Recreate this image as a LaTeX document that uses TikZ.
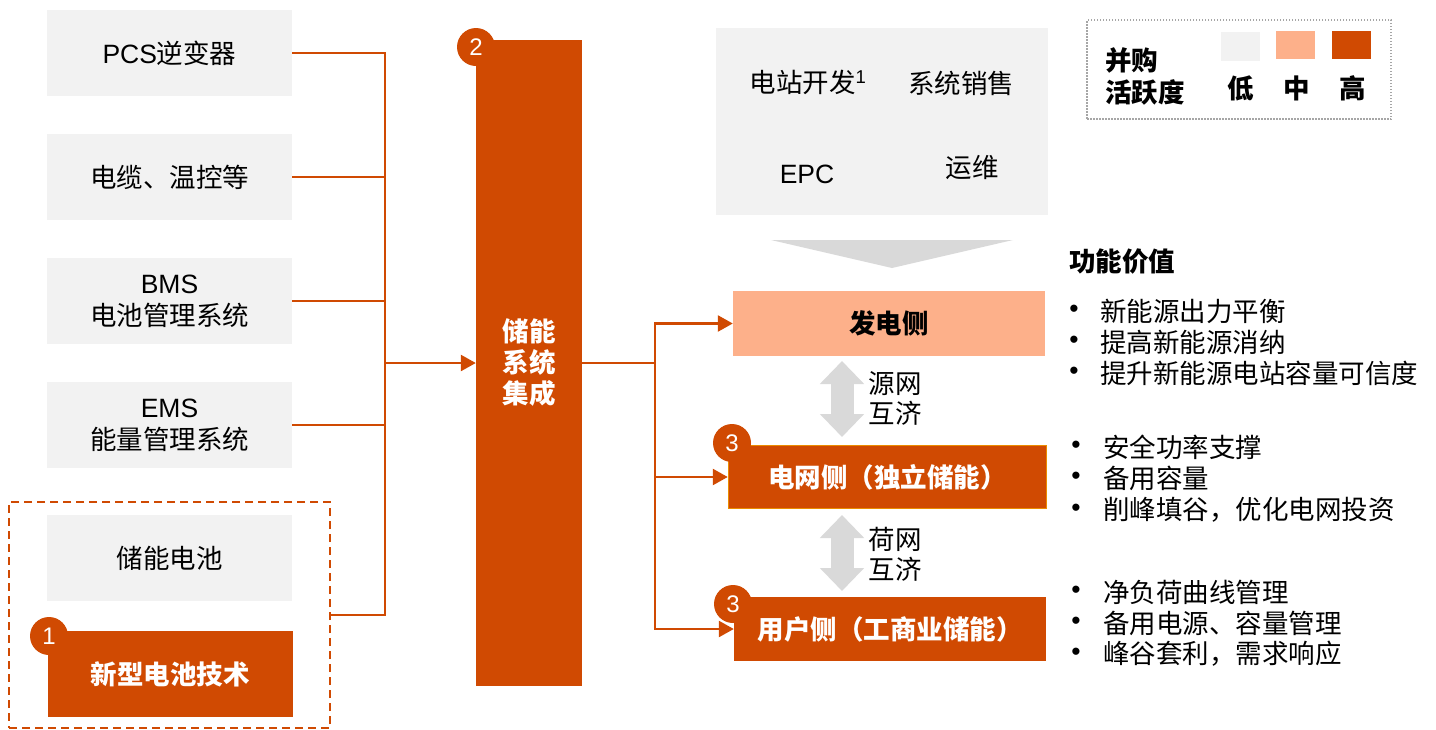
\documentclass[tikz,border=0pt]{standalone}
\usepackage{fontspec}
\setmainfont{Liberation Sans}
\newfontfamily\cjk{Noto Sans CJK SC}
\newfontfamily\lat{Liberation Sans}
\usetikzlibrary{arrows.meta}
\definecolor{pwcorange}{HTML}{D04A02}
\definecolor{pwclight}{HTML}{FDB08A}
\definecolor{boxgray}{HTML}{F2F2F2}
\definecolor{arrgray}{HTML}{D9D9D9}
\definecolor{gridborder}{HTML}{EB8C00}
\definecolor{dotgray}{HTML}{A6A6A6}
\begin{document}
\begin{tikzpicture}[x=1pt,y=-1pt,
  txt/.style={font=\cjk\fontsize{26.5}{32}\selectfont, inner sep=0pt, text=black},
  btxt/.style={font=\cjk\bfseries\fontsize{26.5}{32}\selectfont, inner sep=0pt},
  graybox/.style={txt, fill=boxgray, minimum width=245pt, minimum height=86pt, align=center},
  orangebox/.style={btxt, fill=pwcorange, text=white, align=center},
  numcircle/.style={circle, fill=pwcorange, text=white, minimum size=38pt, inner sep=0pt, font=\lat\fontsize{24}{24}\selectfont},
  conn/.style={draw=pwcorange, line width=2.5pt},
  tip/.style={-{Triangle[length=15pt,width=16pt]}},
  garrow/.style={draw=arrgray, line width=23pt, {Triangle[length=23pt,width=43pt]}-{Triangle[length=23pt,width=43pt]}},
  bul/.style={font=\lat\fontsize{26.5}{32}\selectfont, inner sep=0pt},
  bltxt/.style={txt, anchor=west}
]
\useasboundingbox (0,0) rectangle (1436,729);

% left component boxes
\node[graybox] (b1) at (169.5,53) {{\lat PCS}逆变器};
\node[graybox] (b2) at (169.5,177) {电缆、温控等};
\node[graybox] (b3) at (169.5,301) {{\lat BMS}\\电池管理系统};
\node[graybox] (b4) at (169.5,425) {{\lat EMS}\\能量管理系统};
\node[draw=pwcorange, dashed, dash pattern=on 8pt off 5pt, line width=1.8pt, minimum width=321pt, minimum height=226pt, inner sep=0pt] (grp) at (169.5,615) {};
\node[graybox] (b5) at (169.5,558) {储能电池};
\node[orangebox, minimum width=245pt, minimum height=86pt] (b6) at (170,674) {新型电池技术};

% system integration bar
\node[orangebox, minimum width=106pt, minimum height=646pt, font=\cjk\bfseries\fontsize{26.5}{31}\selectfont] (sys) at (529,363) {储能\\系统\\集成};

% left bus
\coordinate (j) at (385,363);
\draw[conn] (b1.east) -| (j);
\draw[conn] (b2.east) -| (j);
\draw[conn] (b3.east) -| (j);
\draw[conn] (b4.east) -| (j);
\draw[conn] (grp.east) -| (j);
\draw[conn,tip] (j) -- (sys.west);

% top development box
\node[fill=boxgray, minimum width=332pt, minimum height=187pt, inner sep=0pt] (dev) at (882,121.5) {};
\node[txt] (t1) at (808,82) {电站开发{\lat\textsuperscript{1}}};
\node[txt] (t2) at (961,83) {系统销售};
\node[txt] (t3) at (807,174) {{\lat EPC}};
\node[txt] (t4) at (972,168) {运维};
\fill[arrgray] (771,240) -- (1013,240) -- (892,268) -- cycle;

% right application boxes
\node[btxt, fill=pwclight, text=black, minimum width=312pt, minimum height=65pt] (gen) at (889,323.5) {发电侧};
\node[btxt, fill=pwcorange, draw=gridborder, line width=1.5pt, text=white, minimum width=318pt, minimum height=63pt] (grid) at (887.5,477) {电网侧（独立储能）};
\node[btxt, fill=pwcorange, text=white, minimum width=312pt, minimum height=64pt] (user) at (890,629) {用户侧（工商业储能）};

% right bus
\coordinate (k) at (655,363);
\draw[conn] (sys.east |- k) -- (k);
\draw[conn,tip] (k) |- (gen.west);
\draw[conn,tip] (k) |- (grid.west);
\draw[conn,tip] (k) |- (user.west);

% gray double arrows
\coordinate (a1t) at (842,361);
\coordinate (a1b) at (842,437);
\coordinate (a2t) at (842,515);
\coordinate (a2b) at (842,591);
\draw[garrow] (a1t) -- (a1b);
\draw[garrow] (a2t) -- (a2b);
\node[txt, align=left, font=\cjk\fontsize{26.5}{30}\selectfont] (l1) at (895,398) {源网\\互济};
\node[txt, align=left, font=\cjk\fontsize{26.5}{30}\selectfont] (l2) at (895,554) {荷网\\互济};

% number circles
\node[numcircle] (c1) at (49,636) {1};
\node[numcircle] (c2) at (476,47) {2};
\node[numcircle] (c3a) at (732,443) {3};
\node[numcircle] (c3b) at (733,604) {3};

% legend
\node[draw=dotgray, line width=1.5pt, dash pattern=on 1.5pt off 1.5pt, minimum width=304pt, minimum height=99pt, inner sep=0pt] (leg) at (1239,69.5) {};
\node[btxt, align=left, anchor=west, font=\cjk\bfseries\fontsize{26.5}{32}\selectfont] (legt) at (1105,76) {并购\\活跃度};
\node[fill=boxgray, minimum width=39pt, minimum height=29pt, inner sep=0pt] (sq1) at (1240,46) {};
\node[fill=pwclight, minimum width=39pt, minimum height=28pt, inner sep=0pt] (sq2) at (1295,45) {};
\node[fill=pwcorange, minimum width=39pt, minimum height=28pt, inner sep=0pt] (sq3) at (1351,45) {};
\node[btxt] (lo) at (1241,88) {低};
\node[btxt] (mid) at (1297,88) {中};
\node[btxt] (hi) at (1353,88) {高};

% function value list
\node[btxt, anchor=west] (fv) at (1069,262) {功能价值};
\foreach \yy/\tt in {311/新能源出力平衡, 342/提高新能源消纳, 373/提升新能源电站容量可信度}{
  \node[bul] at (1074,\yy) {•};
  \node[bltxt] at (1100,\yy) {\tt};
}
\foreach \yy/\tt in {447/安全功率支撑, 478/备用容量, 510/{削峰填谷，优化电网投资}}{
  \node[bul] at (1076,\yy) {•};
  \node[bltxt] at (1103,\yy) {\tt};
}
\foreach \yy/\tt in {592/净负荷曲线管理, 623/{备用电源、容量管理}, 654/{峰谷套利，需求响应}}{
  \node[bul] at (1076,\yy) {•};
  \node[bltxt] at (1103,\yy) {\tt};
}
\end{tikzpicture}
\end{document}
